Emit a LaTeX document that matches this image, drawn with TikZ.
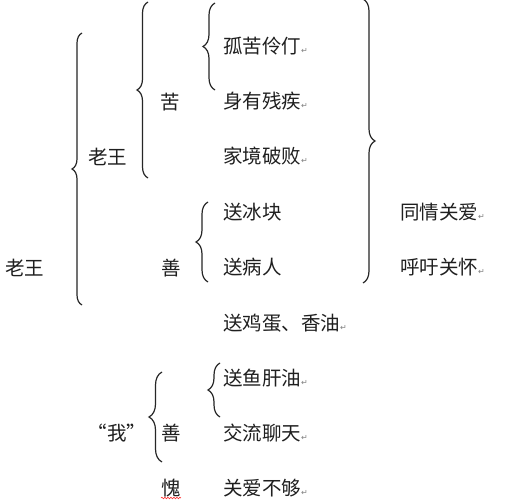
\documentclass[tikz,border=0pt]{standalone}
\usepackage{fontspec}
\setmainfont{Noto Sans CJK SC}
\newfontfamily\dvs{DejaVu Sans}
\usetikzlibrary{decorations.pathreplacing,decorations.pathmorphing}
\newcommand{\retmark}{{\dvs\fontsize{8}{8}\selectfont\color{black!50}↵}}
\tikzset{
  lbl/.style={anchor=base west, inner sep=0pt, text=black!88, font=\fontsize{19.5}{20}\selectfont},
  clbl/.style={anchor=base, inner sep=0pt, text=black!88, font=\fontsize{19.5}{20}\selectfont},
  brc/.style={draw=black!85, line width=1.2pt, decorate, decoration={brace, amplitude=#1}},
}
\begin{document}
\begin{tikzpicture}[x=1pt,y=-1pt]
\useasboundingbox[fill=white] (0,0) rectangle (528,500);
% labels
\node[lbl] (lw1) at (5,275) {老王};
\node[lbl] (lw2) at (88,165) {老王};
\node[lbl] (ku) at (160,110) {苦};
\node[lbl] (t1) at (223,54) {孤苦伶仃\retmark};
\node[lbl] (t2) at (223,109) {身有残疾\retmark};
\node[lbl] (t3) at (223,164) {家境破败\retmark};
\node[lbl] (t4) at (223,219) {送冰块};
\node[lbl] (t5) at (223,274) {送病人};
\node[lbl] (r1) at (400,219) {同情关爱\retmark};
\node[lbl] (r2) at (400,274) {呼吁关怀\retmark};
\node[lbl] (sh1) at (161,275) {善};
\node[lbl] (t6) at (223,330) {送鸡蛋、香油\retmark};
\node[lbl] (t7) at (223,385) {送鱼肝油\retmark};
\node[lbl] (t8) at (223,440) {交流聊天\retmark};
\node[lbl] (t9) at (223,495) {关爱不够\retmark};
\node[clbl] (wo) at (117,440) {“我”};
\node[lbl] (sh2) at (161,440) {善};
\node[lbl] (kui) at (161,495) {愧};
% brace end points
\coordinate (b1a) at (82,305); \coordinate (b1b) at (82,33);
\coordinate (b2a) at (148,178); \coordinate (b2b) at (148,2);
\coordinate (b3a) at (215,90); \coordinate (b3b) at (215,3);
\coordinate (b4a) at (208,282); \coordinate (b4b) at (208,202);
\coordinate (b5a) at (363,-1); \coordinate (b5b) at (363,283);
\coordinate (b6a) at (162,462); \coordinate (b6b) at (162,372);
\coordinate (b7a) at (220,417); \coordinate (b7b) at (220,363);
\draw[brc=10] (b1a) -- (b1b);
\draw[brc=11] (b2a) -- (b2b);
\draw[brc=12] (b3a) -- (b3b);
\draw[brc=12] (b4a) -- (b4b);
\draw[brc=12] (b5a) -- (b5b);
\draw[brc=13] (b6a) -- (b6b);
\draw[brc=12] (b7a) -- (b7b);
% spell-check underline
\draw[red!80, line width=0.6pt, decorate, decoration={snake, amplitude=0.8pt, segment length=3pt}]
  ([yshift=-3pt]kui.base west) -- ([yshift=-3pt]kui.base east);
\end{tikzpicture}
\end{document}
